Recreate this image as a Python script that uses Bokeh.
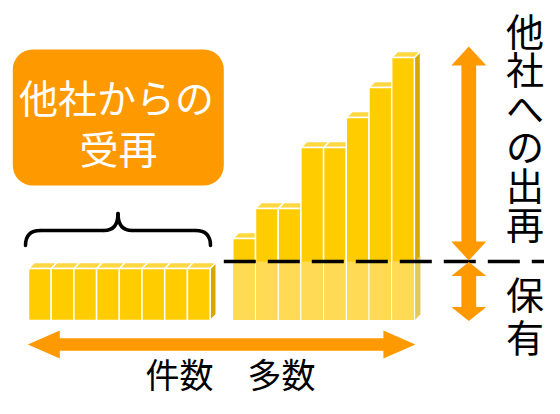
from bokeh.plotting import figure
from bokeh.models import Range1d, BoxAnnotation
from bokeh.embed import file_html
from bokeh.resources import INLINE
from bokeh.core.properties import value

# ---------------- data ----------------
left_values = [52, 52, 52, 52, 52, 52, 52, 52]            # 他社からの受再 (many small contracts)
right_values = [82, 112, 112, 173, 173, 203, 233, 263]    # contracts with 出再 above retention
retention = 59                                             # 保有 level
box_label = ["他社からの", "受再"]
right_label = "他社への出再"
retention_label = "保有"
axis_label = "件数　多数"

# ---------------- layout ----------------
FONT = value("Noto Sans CJK JP")
ORANGE = "#FF9900"
FRONT = "#FFCC00"
TOP = "#FFD740"
SIDE = "#D4AA00"
LIGHT_FRONT = "#FFDA55"
LIGHT_SIDE = "#E3C85C"

W, H = 544, 398
p = figure(width=W, height=H, x_range=Range1d(0, 544), y_range=Range1d(-78, 320),
           output_backend="svg", toolbar_location=None, min_border=0)
p.axis.visible = False
p.grid.visible = False
p.outline_line_color = None
p.background_fill_color = "white"
p.border_fill_color = "white"

start, pitch, depth = 28.0, 22.7, 6.0
right_slot0 = len(left_values) + 1


def draw_bars(slots, heights, light_level=None):
    L = [start + pitch * s for s in slots]
    R = [l + pitch for l in L]
    i = len(slots) - 1
    r, h = R[i], heights[i]
    p.patch([r, r + depth, r + depth, r], [0, depth, h + depth, h],
            fill_color=SIDE, line_color="white", line_width=1.2)
    if light_level is not None:
        p.patch([r, r + depth, r + depth, r], [0, depth, light_level + depth, light_level],
                fill_color=LIGHT_SIDE, line_color=None)
    xs = [[l, r_, r_ + depth, l + depth] for l, r_ in zip(L, R)]
    ys = [[h_, h_, h_ + depth, h_ + depth] for h_ in heights]
    p.patches(xs, ys, fill_color=TOP, line_color="white", line_width=1.3)
    p.quad(left=L, right=R, bottom=0, top=heights, fill_color=FRONT,
           line_color="white", line_width=1.5)
    if light_level is not None:
        p.quad(left=[l + 0.75 for l in L], right=[r_ - 0.75 for r_ in R], bottom=0.4,
               top=light_level, fill_color=LIGHT_FRONT, line_color=None)


draw_bars(list(range(len(left_values))), left_values)
draw_bars([right_slot0 + j for j in range(len(right_values))], right_values, light_level=retention)

group_left = start
group_right = start + pitch * (right_slot0 + len(right_values)) + depth - 5

# dashed retention line
p.line([start + pitch * right_slot0 - 9, 560], [retention, retention],
       line_color="black", line_width=3.5, line_dash="32 12")


def v_arrow(cx, y0, y1, hl, hw=17.5, sw=7.4):
    return ([cx, cx + hw, cx + sw, cx + sw, cx + hw, cx, cx - hw, cx - sw, cx - sw, cx - hw],
            [y1, y1 - hl, y1 - hl, y0 + hl, y0 + hl, y0, y0 + hl, y0 + hl, y1 - hl, y1 - hl])


def h_arrow(cy, x0, x1, hl=32, hw=14, sw=6.3):
    return ([x0, x0 + hl, x0 + hl, x1 - hl, x1 - hl, x1, x1 - hl, x1 - hl, x0 + hl, x0 + hl],
            [cy, cy + hw, cy + sw, cy + sw, cy + hw, cy, cy - hw, cy - sw, cy - sw, cy - hw])


arrow_x = 468.3
ax1, ay1 = v_arrow(arrow_x, retention + 1, max(right_values) + 11, 19)
ax2, ay2 = v_arrow(arrow_x, -0.5, retention - 0.5, 14)
ax3, ay3 = h_arrow(-24, group_left - 0.7, group_right)
p.patches([ax1, ax2, ax3], [ay1, ay2, ay3], fill_color=ORANGE, line_color=None)

# brace over left group
bl, br = 25.0, 210.0
bm = (bl + br) / 2
yb, yl, yt = 75, 90, 107
p.quadratic(x0=[bl, br, bm - 14, bm + 14], y0=[yb, yb, yl, yl],
            x1=[bl + 15, br - 15, bm, bm], y1=[yl, yl, yt, yt],
            cx=[bl, br, bm, bm], cy=[yl, yl, yl, yl],
            line_color="black", line_width=3.5, line_cap="round")
p.segment(x0=[bl + 15, bm + 14], y0=[yl, yl], x1=[bm - 14, br - 15], y1=[yl, yl],
          line_color="black", line_width=3.5)

# rounded box
box = BoxAnnotation(left=12.3, right=223.3, bottom=135, top=271, fill_color=ORANGE,
                    fill_alpha=1, line_color=None, border_radius=20, level="underlay")
p.add_layout(box)
p.text(x=[116, 118], y=[224.5, 173.5], text=box_label, text_font=FONT,
       text_font_size="39px", text_align="center", text_baseline="middle", text_color="white")

# vertical labels on the right
chars = list(right_label)
rx = 524.5
p.text(x=[rx] * len(chars), y=[291.5 - 38.6 * k for k in range(len(chars))], text=chars,
       text_font=FONT, text_font_size="38px", text_align="center", text_baseline="middle",
       text_color="black")
rchars = list(retention_label)
p.text(x=[rx] * len(rchars), y=[28.5 - 43 * k for k in range(len(rchars))], text=rchars,
       text_font=FONT, text_font_size="38px", text_align="center", text_baseline="middle",
       text_color="black")

# bottom label
p.text(x=[230], y=[-53], text=[axis_label], text_font=FONT, text_font_size="34px",
       text_align="center", text_baseline="middle", text_color="black")

open("out.html", "w").write(file_html(p, INLINE))
